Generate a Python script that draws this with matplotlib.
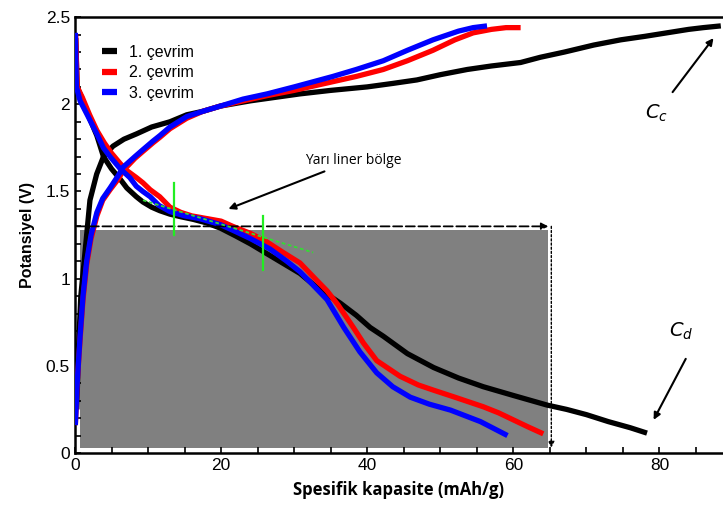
import matplotlib
matplotlib.use("Agg")
import matplotlib.pyplot as plt
from matplotlib.patches import Rectangle
from matplotlib.ticker import MultipleLocator

# ---- data ----
x_ch1 = [0.25, 0.45, 0.8, 1.37, 2.05, 2.97, 3.9, 5.2, 6.7, 8.4, 10.5, 13, 15.3, 17.5, 19.9, 24, 30.8, 35, 40,
         43.5, 46.8, 50, 53.7, 57, 61, 63.7, 67, 71, 74.7, 78, 81, 84, 86, 88.4]
y_ch1 = [0.25, 0.57, 0.9, 1.15, 1.45, 1.6, 1.70, 1.76, 1.80, 1.83, 1.87, 1.90, 1.94, 1.96, 1.99, 2.02, 2.06,
         2.08, 2.10, 2.12, 2.14, 2.17, 2.20, 2.22, 2.24, 2.27, 2.30, 2.34, 2.37, 2.39, 2.41, 2.43, 2.44, 2.45]
x_dc1 = [0.1, 0.3, 1, 2, 3, 3.9, 5, 6.2, 7.1, 8.4, 9.3, 10.5, 11.6, 13, 14.5, 16.2, 18, 19.9, 22, 24, 26, 28,
         30.8, 33.1, 36.3, 38.5, 40.4, 42.2, 45.5, 49.1, 52.5, 55.9, 60, 64.6, 67.3, 70, 73, 76, 78.3]
y_dc1 = [2.38, 2.1, 2.03, 1.92, 1.82, 1.70, 1.63, 1.57, 1.52, 1.47, 1.44, 1.41, 1.39, 1.37, 1.355, 1.34,
         1.32, 1.29, 1.245, 1.20, 1.15, 1.10, 1.03, 0.95, 0.86, 0.79, 0.72, 0.67, 0.57, 0.49, 0.43, 0.38,
         0.33, 0.275, 0.25, 0.22, 0.18, 0.145, 0.114]

x_ch2 = [0.05, 0.3, 0.7, 1.1, 1.6, 2.2, 3, 3.8, 4.8, 5.9, 6.6, 8.2, 9.3, 10.7, 11.6, 13, 15.3, 17.5, 19.9,
         23, 26.3, 30, 35.3, 38.5, 42.2, 45.5, 49, 52, 54.5, 57, 59, 61]
y_ch2 = [0.16, 0.4, 0.65, 0.88, 1.08, 1.23, 1.36, 1.45, 1.51, 1.57, 1.62, 1.69, 1.73, 1.78, 1.81, 1.86, 1.92,
         1.96, 1.99, 2.02, 2.05, 2.08, 2.13, 2.16, 2.20, 2.25, 2.31, 2.37, 2.41, 2.43, 2.44, 2.44]
x_dc2 = [0.1, 0.3, 1, 2, 3, 4, 5, 6.2, 7.1, 8.4, 9.3, 10.3, 11.6, 13, 14.5, 16, 18, 20, 21.6, 24, 26.3, 28.5,
         30.8, 33.1, 34.5, 36, 38.1, 39.5, 41.3, 44.5, 47, 49.1, 52, 55.9, 58, 60, 62, 64.1]
y_dc2 = [2.4, 2.1, 2.04, 1.94, 1.85, 1.78, 1.72, 1.66, 1.62, 1.58, 1.55, 1.51, 1.47, 1.41, 1.38, 1.36, 1.345,
         1.33, 1.30, 1.26, 1.21, 1.15, 1.09, 0.99, 0.93, 0.85, 0.72, 0.63, 0.53, 0.44, 0.39, 0.36, 0.32,
         0.265, 0.23, 0.19, 0.15, 0.11]

x_ch3 = [0.05, 0.3, 0.7, 1.1, 1.6, 2.2, 3, 3.8, 4.8, 5.9, 6.6, 8.2, 9.3, 10.7, 11.6, 13, 15.3, 17.5, 19.9,
         23, 26.3, 30, 35.3, 38.5, 42.2, 45.5, 49, 52.5, 54.5, 56.4]
y_ch3 = [0.16, 0.4, 0.67, 0.9, 1.1, 1.25, 1.38, 1.46, 1.52, 1.59, 1.64, 1.70, 1.74, 1.79, 1.82, 1.87, 1.93,
         1.96, 1.99, 2.03, 2.06, 2.10, 2.16, 2.20, 2.25, 2.31, 2.37, 2.42, 2.44, 2.45]
x_dc3 = [0.05, 0.2, 0.7, 1.8, 3, 3.9, 4.8, 6.2, 7.5, 8.4, 9.3, 10.3, 11.5, 13, 15, 17, 19.9, 22, 24, 26.7,
         29, 30.8, 32.2, 34.5, 36.8, 39, 41.3, 43.5, 45.9, 48.5, 51.4, 55.5, 59.2]
y_dc3 = [2.41, 2.1, 2.02, 1.93, 1.83, 1.75, 1.70, 1.63, 1.58, 1.53, 1.50, 1.47, 1.42, 1.385, 1.36, 1.345,
         1.31, 1.27, 1.23, 1.17, 1.10, 1.04, 0.98, 0.88, 0.72, 0.58, 0.46, 0.38, 0.32, 0.28, 0.246, 0.18, 0.10]

labels = ["1. çevrim", "2. çevrim", "3. çevrim"]
colors = ["#000000", "#ff0000", "#0000ff"]

fig = plt.figure(figsize=(7.23, 5.05), dpi=100)
ax = fig.add_axes([0.1037, 0.103, 0.8963, 0.863])

ax.add_patch(Rectangle((0.7, 0.03), 64.1, 1.25, facecolor="#808080", edgecolor="none", zorder=1))

curves = [(x_ch1, y_ch1, x_dc1, y_dc1), (x_ch2, y_ch2, x_dc2, y_dc2), (x_ch3, y_ch3, x_dc3, y_dc3)]
for (xc, yc, xd, yd), lab, col in zip(curves, labels, colors):
    ax.plot(xc, yc, color=col, lw=3.8, solid_capstyle="butt", solid_joinstyle="round", zorder=3, label=lab)
    ax.plot(xd, yd, color=col, lw=3.8, solid_capstyle="butt", solid_joinstyle="round", zorder=3)

# dashed horizontal arrow and dotted vertical arrow
ax.annotate("", xy=(64.8, 1.3), xytext=(0.3, 1.3),
            arrowprops=dict(arrowstyle="-|>", ls=(0, (5, 2)), lw=1.3, color="black",
                            mutation_scale=10, shrinkA=0, shrinkB=0), zorder=4)
ax.annotate("", xy=(65.2, 0.03), xytext=(65.2, 1.3),
            arrowprops=dict(arrowstyle="-|>", ls=(0, (1.5, 1.5)), lw=1.0, color="black",
                            mutation_scale=9, shrinkA=0, shrinkB=0), zorder=4)

# green markers
ax.plot([9.3, 32.6], [1.45, 1.15], color="#33dd33", lw=1.3, ls=(0, (2, 1.5)), zorder=5)
ax.plot([13.5, 13.5], [1.25, 1.55], color="#22ee22", lw=1.6, zorder=5)
ax.plot([25.7, 25.7], [1.05, 1.36], color="#22ee22", lw=1.6, zorder=5)

# annotations
ax.annotate("Yarı liner bölge", xy=(21.0, 1.40), xytext=(31.5, 1.68),
            fontsize=10, family="Open Sans", ha="left", va="center",
            arrowprops=dict(arrowstyle="-|>", lw=1.5, color="black", mutation_scale=10,
                            shrinkA=2, shrinkB=0))
ax.annotate("", xy=(87.4, 2.38), xytext=(81.8, 2.07),
            arrowprops=dict(arrowstyle="-|>", lw=1.5, color="black", mutation_scale=10,
                            shrinkA=0, shrinkB=0))
ax.text(79.6, 1.95, r"$C_c$", fontsize=14, ha="center", va="center")
ax.annotate("", xy=(79.2, 0.19), xytext=(83.6, 0.54),
            arrowprops=dict(arrowstyle="-|>", lw=1.5, color="black", mutation_scale=10,
                            shrinkA=0, shrinkB=0))
ax.text(83.0, 0.70, r"$C_d$", fontsize=14, ha="center", va="center")

ax.set_xlim(0, 88.7)
ax.set_ylim(0, 2.5)
ax.xaxis.set_major_locator(MultipleLocator(20))
ax.xaxis.set_minor_locator(MultipleLocator(5))
ax.yaxis.set_major_locator(MultipleLocator(0.5))
ax.yaxis.set_minor_locator(MultipleLocator(0.1))
ax.set_yticks([0, 0.5, 1, 1.5, 2, 2.5])
ax.set_yticklabels(["0", "0.5", "1", "1.5", "2", "2.5"])
ax.tick_params(which="both", direction="in", length=4, width=1.2, labelsize=12.5)
for lbl in ax.get_xticklabels() + ax.get_yticklabels():
    lbl.set_family("Liberation Sans")
for s in ["top", "left", "bottom"]:
    ax.spines[s].set_linewidth(1.8)
ax.spines["right"].set_visible(False)

ax.set_xlabel("Spesifik kapasite (mAh/g)", fontsize=12, fontweight="bold", family="Open Sans", labelpad=6)
ax.set_ylabel("Potansiyel (V)", fontsize=11.5, fontweight="bold", family="Liberation Sans", labelpad=8)

leg = ax.legend(loc="upper left", bbox_to_anchor=(0.02, 0.97), frameon=False, handlelength=0.9,
                handletextpad=0.8, labelspacing=0.35, prop={"family": "Liberation Sans", "size": 11.5})
for h in leg.get_lines():
    h.set_linewidth(4.5)

fig.savefig("out.png", dpi=100)
